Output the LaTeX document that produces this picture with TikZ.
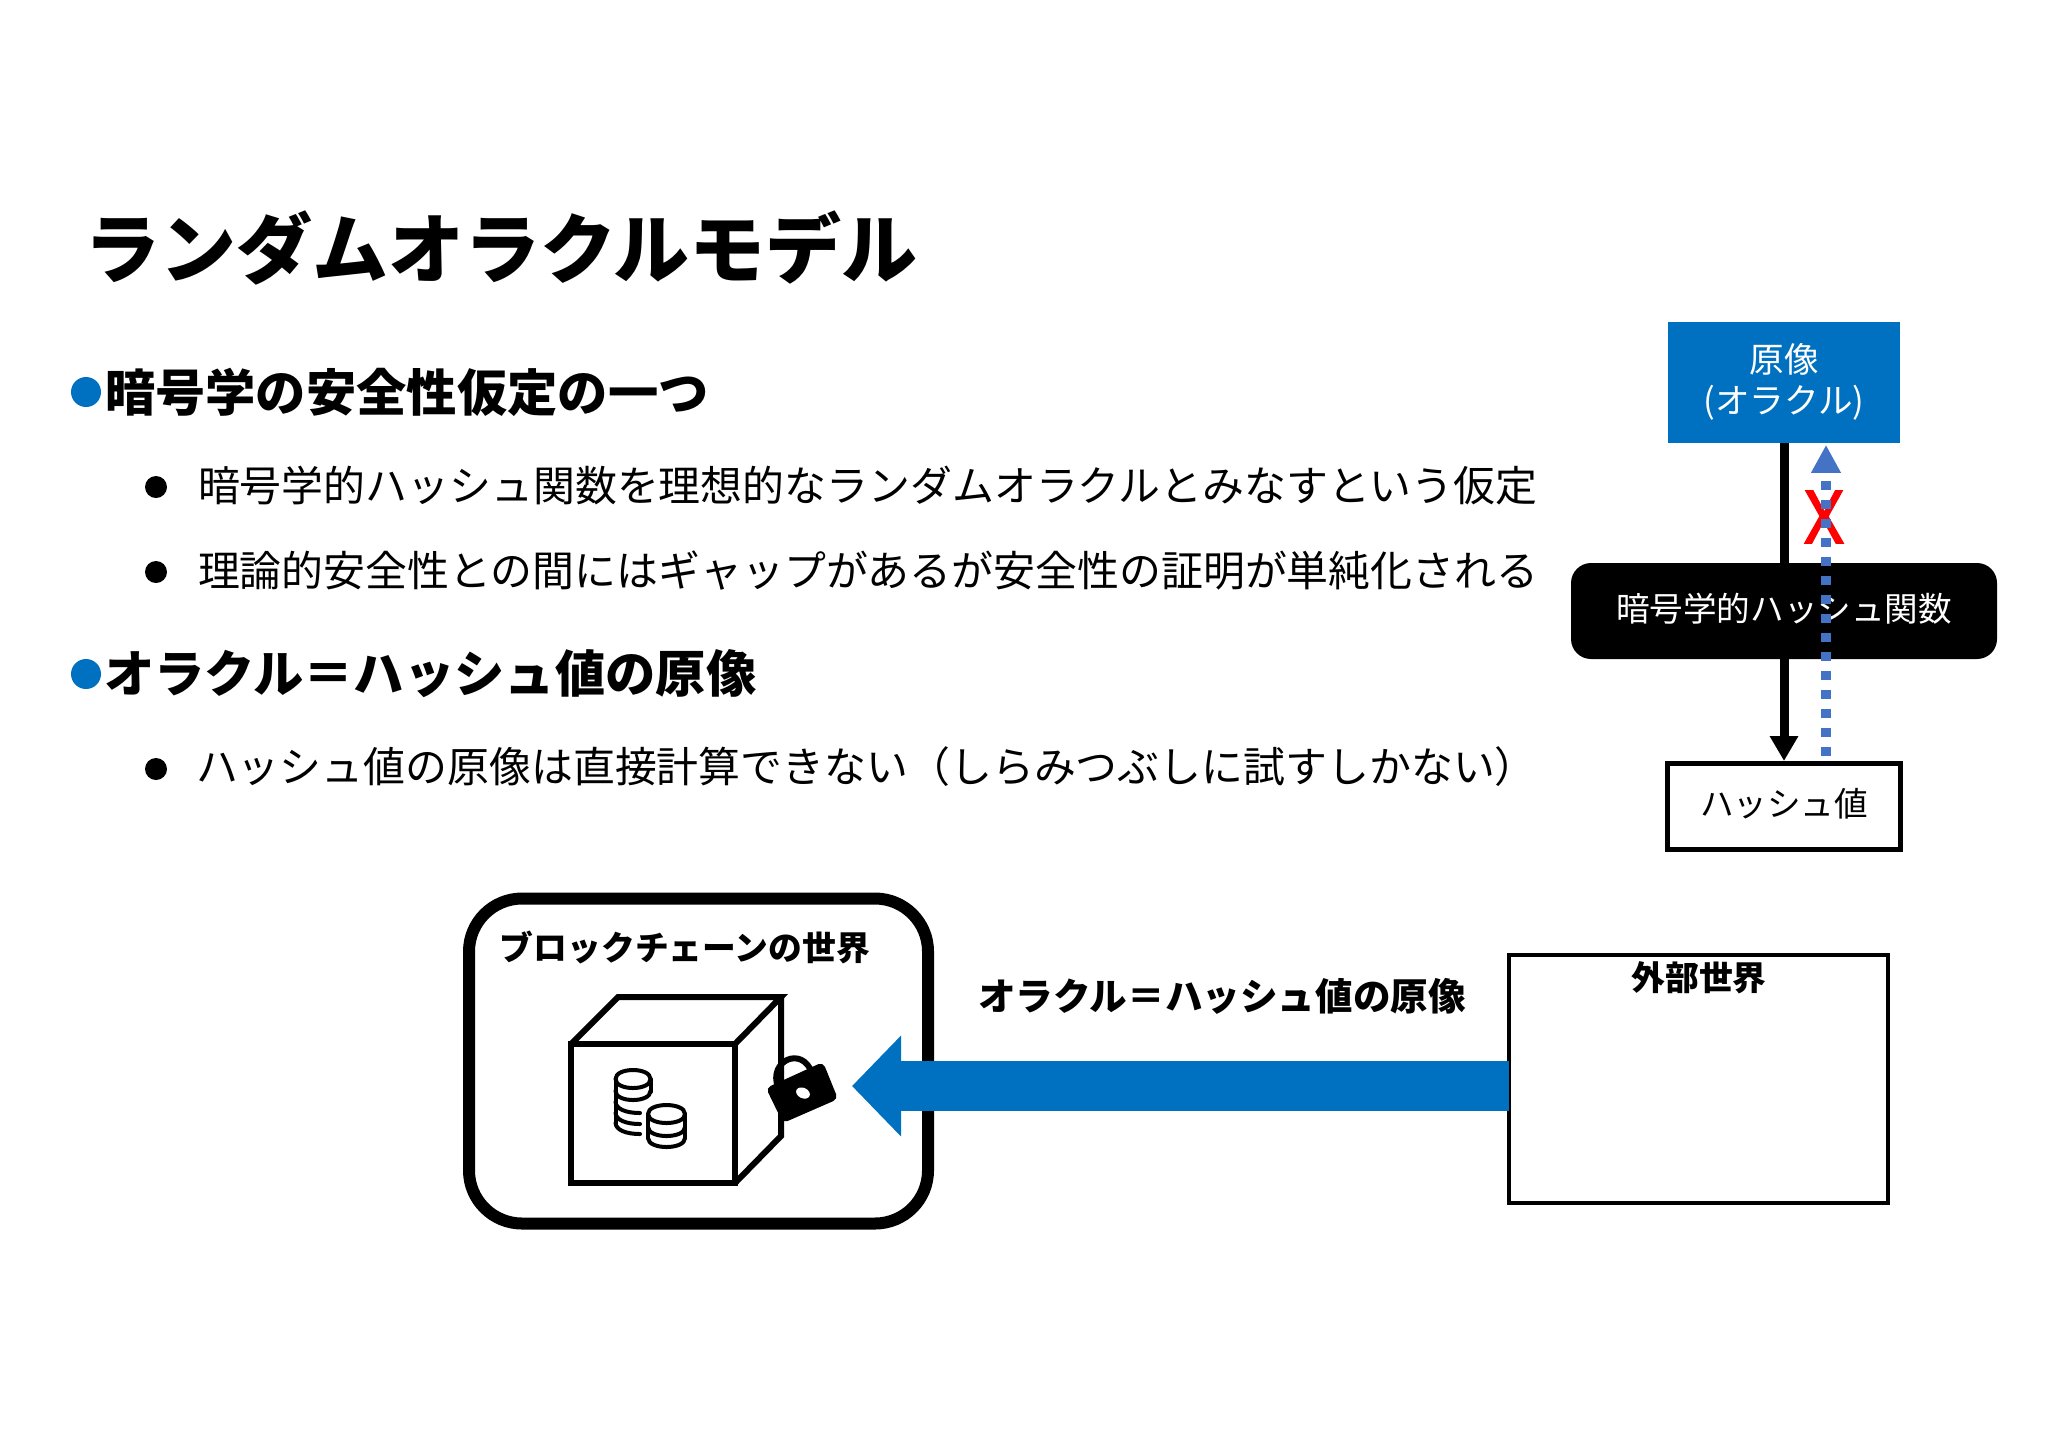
\documentclass[tikz,border=0pt]{standalone}
\usepackage{fontspec}
\setmainfont{Noto Sans CJK JP}
\newfontfamily\crossfont[FakeBold=1.5]{Noto Sans CJK JP}
\usetikzlibrary{arrows.meta}
\definecolor{msblue}{HTML}{0070C0}
\definecolor{dotblue}{HTML}{4472C4}
\tikzset{
  lbl/.style={inner sep=0pt,outer sep=0pt,anchor=west,text=black},
  title/.style={lbl,font=\fontsize{38pt}{40pt}\selectfont\bfseries},
  heading/.style={lbl,font=\fontsize{25.15pt}{28pt}\selectfont\bfseries},
  body/.style={lbl,font=\fontsize{20.95pt}{24pt}\selectfont},
  blueDot/.style={circle,fill=msblue,minimum size=15pt,inner sep=0pt,outer sep=0pt},
  blackDot/.style={circle,fill=black,minimum size=11pt,inner sep=0pt,outer sep=0pt},
  boxlabel/.style={inner sep=0pt,outer sep=0pt,font=\fontsize{16.8pt}{20.5pt}\selectfont,align=center},
  bluebox/.style={boxlabel,font=\fontsize{17.3pt}{20.5pt}\selectfont,fill=msblue,text=white,minimum width=116pt,minimum height=60.5pt},
  blackbox/.style={boxlabel,fill=black,text=white,minimum width=213pt,minimum height=48pt,rounded corners=10pt},
  hashbox/.style={boxlabel,draw=black,line width=2.5pt,minimum width=116.5pt,minimum height=43pt},
  chainbox/.style={draw=black,line width=6pt,fill=white,inner sep=0pt,outer sep=0pt,minimum width=229.5pt,minimum height=162.5pt,rounded corners=26.5pt},
  worldbox/.style={draw=black,line width=2.4pt,fill=white,inner sep=0pt,outer sep=0pt,minimum width=189.5pt,minimum height=124pt},
  boldlabel/.style={inner sep=0pt,outer sep=0pt,font=\fontsize{16.9pt}{19pt}\selectfont\bfseries},
  solidarrow/.style={line width=4.5pt,black,-{Triangle[length=12.5pt,width=13.5pt]}},
  dotarrow/.style={line width=4.7pt,dotblue,dash pattern=on 4.6pt off 4.9pt,-{Triangle[length=14pt,width=14pt]}},
  bigarrow/.style={line width=25pt,msblue,-{Triangle[length=24.5pt,width=49pt]}},
  cube/.style={draw=black,line width=3pt,line join=miter},
  coin/.style={draw=black,line width=2pt,line cap=round,line join=round},
}
\begin{document}
\begin{tikzpicture}[x=0.5pt,y=-0.5pt]
\useasboundingbox (0,0) rectangle (2048,1448);
\fill[white] (0,0) rectangle (2048,1448);

% text block
\node[title] (ttl) at (84,248) {ランダムオラクルモデル};
\node[blueDot] (d1) at (86,392) {};
\node[heading] (h1) at (105,392) {暗号学の安全性仮定の一つ};
\node[blackDot] (b1) at (156,487) {};
\node[body] (t1) at (198,486) {暗号学的ハッシュ関数を理想的なランダムオラクルとみなすという仮定};
\node[blackDot] (b2) at (156,572) {};
\node[body] (t2) at (198,571) {理論的安全性との間にはギャップがあるが安全性の証明が単純化される};
\node[blueDot] (d2) at (86,674) {};
\node[heading] (h2) at (104,674) {オラクル＝ハッシュ値の原像};
\node[blackDot] (b3) at (156,769) {};
\node[body] (t3) at (196,767) {ハッシュ値の原像は直接計算できない（しらみつぶしに試すしかない）};

% hash diagram
\node[bluebox] (orig) at (1784,382) {\raisebox{0.5pt}{原像}\\\raisebox{0.5pt}{(オラクル)}};
\node[hashbox] (hash) at (1784,806.5) {\raisebox{4pt}{ハッシュ値}};
\draw[solidarrow,shorten >=1.25pt] (orig.south) -- (hash.north);
\node[blackbox] (fn) at (1784,611) {\raisebox{3.4pt}{暗号学的ハッシュ関数}};
\node[inner sep=0pt,text=red,font=\fontsize{36pt}{38pt}\crossfont] (cross) at (1824,517) {X};
\draw[dotarrow,shorten <=3.9pt,shorten >=1.2pt] ([xshift=21pt]hash.north) -- ([xshift=21pt]orig.south);

% blockchain world
\node[chainbox] (chain) at (698.5,1061) {};
\node[boldlabel] (chainlbl) at (685,947) {ブロックチェーンの世界};

\begin{scope}[yshift=-0.5pt]
% safe
\draw[cube] (571,1043) rectangle (735,1182);
\draw[cube] (571,1043) -- (618,996) -- (781,996) -- (735,1043);
\draw[cube] (781,996) -- (781,1135) -- (735,1182);

% coins
\draw[coin] (615.5,1078) .. controls (615.5,1066) and (650.5,1066) .. (650.5,1078) .. controls (650.5,1090) and (615.5,1090) .. cycle;
\draw[coin] (615.5,1078) -- (615.5,1122);
\draw[coin] (650.5,1078) -- (650.5,1091);
\draw[coin] (615.5,1090) .. controls (615.5,1102) and (650.5,1102) .. (650.5,1090);
\draw[coin] (615.5,1101) .. controls (616,1108) and (626,1112) .. (640,1112);
\draw[coin] (615.5,1112) .. controls (616,1119) and (626,1123) .. (640,1123);
\draw[coin] (615.5,1122) .. controls (616,1129) and (626,1133) .. (640,1133);
\draw[coin] (648,1113) .. controls (648,1101) and (685,1101) .. (685,1113) .. controls (685,1125) and (648,1125) .. cycle;
\draw[coin] (648,1113) -- (648,1137);
\draw[coin] (685,1113) -- (685,1137);
\draw[coin] (648,1126) .. controls (648,1138) and (685,1138) .. (685,1126);
\draw[coin] (648,1137) .. controls (648,1149) and (685,1149) .. (685,1137);

% lock
\draw[black,line width=3pt] (778,1086) .. controls (768,1060) and (802,1044) .. (812,1072);
\fill[black,rounded corners=2.5pt] (766,1087) -- (823,1061) -- (838,1098) -- (783,1122) -- cycle;
\fill[white,rotate around={-25:(803,1092)}] (803,1092) ellipse [x radius=3.6pt,y radius=2.6pt];
\end{scope}

% external world and big arrow
\node[worldbox] (world) at (1698.5,1079) {};
\node[boldlabel] (worldlbl) at (1699,978) {外部世界};
\coordinate (tip) at (852,1086);
\draw[bigarrow] (world.west |- tip) -- (tip);
\node[inner sep=0pt,outer sep=0pt,font=\fontsize{18.8pt}{21pt}\selectfont\bfseries] (arrowlbl) at (1222,996) {オラクル＝ハッシュ値の原像};
\end{tikzpicture}
\end{document}
